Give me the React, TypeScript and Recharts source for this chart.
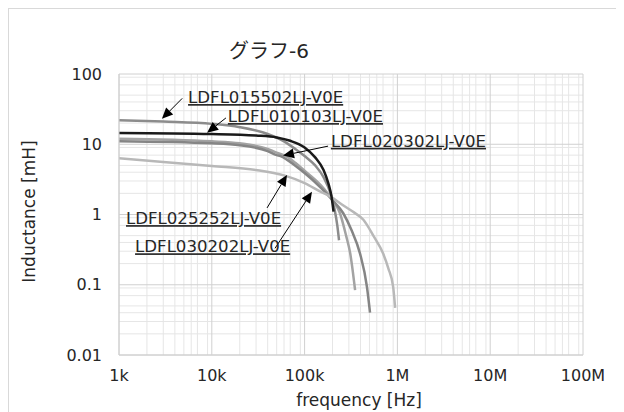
import { LineChart, Line, XAxis, YAxis, CartesianGrid, ReferenceLine, ReferenceDot } from 'recharts';

const FONT = '"DejaVu Sans", "Noto Sans CJK JP", sans-serif';

const FREQ_TICKS = [1e3, 1e4, 1e5, 1e6, 1e7, 1e8];
const FREQ_LABELS = ['1k', '10k', '100k', '1M', '10M', '100M'];
const L_TICKS = [0.01, 0.1, 1, 10, 100];
const L_LABELS = ['0.01', '0.1', '1', '10', '100'];

// minor grid values (2..9 per decade)
const MINOR_F = FREQ_TICKS.slice(0, -1).flatMap((d) => [2, 3, 4, 5, 6, 7, 8, 9].map((k) => k * d));
const MINOR_L = L_TICKS.slice(0, -1).flatMap((d) => [2, 3, 4, 5, 6, 7, 8, 9].map((k) => k * d));

// LDFL015502LJ-V0E
const A_F = [1e3, 3e3, 1e4, 2e4, 4e4, 6e4, 8e4, 1e5, 1.3e5, 1.6e5, 1.9e5, 2.1e5, 2.25e5, 2.35e5];
const A_L = [22, 21, 19.5, 17.5, 14, 11, 8.5, 6.8, 5, 3.4, 2.0, 1.2, 0.7, 0.43];
// LDFL010103LJ-V0E
const B_F = [1e3, 1e4, 3e4, 5e4, 7e4, 1e5, 1.3e5, 1.6e5, 1.8e5, 1.95e5, 2.05e5];
const B_L = [14.5, 14, 13.3, 12.5, 11.2, 9, 6.5, 4.3, 2.8, 1.8, 1.1];
// LDFL020302LJ-V0E
const C_F = [1e3, 1e4, 2e4, 4e4, 5e4, 5.5e4, 6.5e4, 8e4, 1e5, 1.5e5, 2e5, 2.4e5, 2.8e5, 3.1e5, 3.5e5];
const C_L = [12, 11, 10.3, 8.6, 7.6, 7.3, 6.6, 5.4, 4.2, 2.6, 1.6, 1.05, 0.5, 0.28, 0.084];
// LDFL025252LJ-V0E
const D_F = [1e3, 1e4, 2e4, 4e4, 5e4, 5.5e4, 6.5e4, 8e4, 1e5, 1.5e5, 2e5, 2.6e5, 3.2e5, 3.95e5, 4.7e5, 5.07e5];
const D_L = [11, 10.3, 9.7, 8, 7, 6.8, 6, 4.9, 3.9, 2.4, 1.6, 1.05, 0.6, 0.28, 0.093, 0.04];
// LDFL030202LJ-V0E
const E_F = [1e3, 3e3, 1e4, 3e4, 6e4, 1e5, 1.5e5, 1.9e5, 2.5e5, 3.3e5, 4.3e5, 5.5e5, 7e5, 8e5, 9e5, 9.45e5];
const E_L = [6.3, 5.6, 4.9, 4.3, 3.6, 2.8, 2.1, 1.8, 1.4, 1.1, 0.84, 0.5, 0.28, 0.17, 0.093, 0.047];

const zip = (f: number[], l: number[]) => f.map((v, i) => ({ f: v, L: l[i] }));

const SERIES = [
  { name: 'LDFL015502LJ-V0E', data: zip(A_F, A_L), color: '#8c8c8c' },
  { name: 'LDFL020302LJ-V0E', data: zip(C_F, C_L), color: '#a3a3a3' },
  { name: 'LDFL025252LJ-V0E', data: zip(D_F, D_L), color: '#858585' },
  { name: 'LDFL030202LJ-V0E', data: zip(E_F, E_L), color: '#b8b8b8' },
  { name: 'LDFL010103LJ-V0E', data: zip(B_F, B_L), color: '#1a1a1a' },
];

// callouts: label anchor, arrow tail, arrow tip (data coords)
const CALLOUTS = [
  { text: 'LDFL015502LJ-V0E', label: [5.55e3, 38.6], tail: [4.8e3, 45], tip: [2.9e3, 23] },
  { text: 'LDFL010103LJ-V0E', label: [1.49e4, 20.7], tail: [1.42e4, 23.7], tip: [8.9e3, 14.6] },
  { text: 'LDFL020302LJ-V0E', label: [1.92e5, 9.2], tail: [1.79e5, 9.4], tip: [5.85e4, 6.9] },
  { text: 'LDFL025252LJ-V0E', label: [1.19e3, 0.73], tail: [3.94e4, 1.24], tip: [6.46e4, 3.65] },
  { text: 'LDFL030202LJ-V0E', label: [1.49e3, 0.29], tail: [4.8e4, 0.33], tip: [1.2e5, 2.1] },
];

const fmt = (arr: number[], labels: string[]) => (v: number) => {
  const i = arr.findIndex((t) => Math.abs(t - v) / t < 1e-6);
  return i >= 0 ? labels[i] : '';
};

const Arrow = (p: any) => {
  const { x1, y1, x2, y2 } = p;
  const dx = x2 - x1;
  const dy = y2 - y1;
  const len = Math.hypot(dx, dy) || 1;
  const ux = dx / len;
  const uy = dy / len;
  const hl = 11;
  const hw = 5;
  const bx = x2 - ux * hl;
  const by = y2 - uy * hl;
  return (
    <g>
      <line x1={x1} y1={y1} x2={bx} y2={by} stroke="#000" strokeWidth={1} />
      <polygon
        points={`${x2},${y2} ${bx - uy * hw},${by + ux * hw} ${bx + uy * hw},${by - ux * hw}`}
        fill="#000"
      />
    </g>
  );
};

const LabelText = (text: string) => (p: any) => (
  <text
    x={p.cx}
    y={p.cy}
    fontSize={16.6}
    fontFamily={FONT}
    fill="#262626"
    style={{ textDecoration: 'underline' }}
  >
    {text}
  </text>
);

export default function App() {
  return (
    <div
      style={{
        position: 'relative',
        width: 616,
        height: 404,
        borderTop: '1px solid #d9d9d9',
        borderLeft: '1px solid #d9d9d9',
        boxSizing: 'border-box',
        fontFamily: FONT,
      }}
    >
      <div
        style={{
          position: 'absolute',
          left: 0,
          width: 520,
          top: 26,
          textAlign: 'center',
          fontSize: 20,
          color: '#262626',
          fontFamily: FONT,
        }}
      >
        グラフ-6
      </div>
      <LineChart width={615} height={403} margin={{ top: 65, right: 41, bottom: 27, left: 0 }}>
        <CartesianGrid stroke="#e6e6e6" verticalValues={MINOR_F} horizontalValues={MINOR_L} />
        <CartesianGrid stroke="#d0d0d0" />
        <XAxis
          type="number"
          dataKey="f"
          scale="log"
          domain={[1e3, 1e8]}
          ticks={FREQ_TICKS}
          allowDataOverflow
          tickFormatter={fmt(FREQ_TICKS, FREQ_LABELS)}
          tickLine={false}
          tickSize={0}
          tickMargin={15}
          height={30}
          axisLine={{ stroke: '#d0d0d0' }}
          tick={{ fill: '#262626', fontSize: 16, fontFamily: FONT }}
          label={{ value: 'frequency [Hz]', position: 'center', dx: 8, dy: 30, fill: '#262626', fontSize: 17, fontFamily: FONT }}
        />
        <YAxis
          type="number"
          dataKey="L"
          scale="log"
          domain={[0.01, 100]}
          ticks={L_TICKS}
          allowDataOverflow
          tickFormatter={fmt(L_TICKS, L_LABELS)}
          tickLine={false}
          tickSize={0}
          tickMargin={17}
          width={110}
          axisLine={{ stroke: '#d0d0d0' }}
          tick={{ fill: '#262626', fontSize: 16, fontFamily: FONT }}
          label={{ value: 'Inductance [mH]', angle: -90, position: 'center', dx: -35, dy: -3, fill: '#262626', fontSize: 17, fontFamily: FONT }}
        />
        {SERIES.map((s) => (
          <Line
            key={s.name}
            data={s.data}
            dataKey="L"
            type="monotone"
            stroke={s.color}
            strokeWidth={2.5}
            dot={false}
            activeDot={false}
            isAnimationActive={false}
          />
        ))}
        {CALLOUTS.map((c) => (
          <ReferenceLine
            key={c.text + '-arrow'}
            segment={[
              { x: c.tail[0], y: c.tail[1] },
              { x: c.tip[0], y: c.tip[1] },
            ]}
            shape={Arrow}
          />
        ))}
        {CALLOUTS.map((c) => (
          <ReferenceDot key={c.text} x={c.label[0]} y={c.label[1]} r={0} shape={LabelText(c.text)} />
        ))}
      </LineChart>
    </div>
  );
}
